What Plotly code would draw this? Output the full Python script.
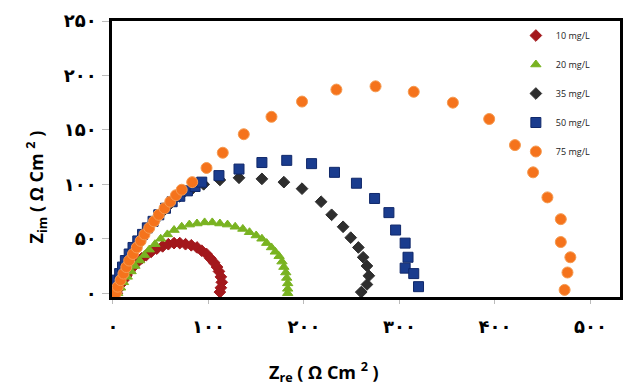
import plotly.graph_objects as go

# Data : Z_re, Z_im in ohm.cm^2
re_10 = [4, 6, 8, 11, 14, 17, 21, 25, 30, 35, 40, 46, 52, 58, 64, 70, 76, 82, 88, 93, 98, 102, 106, 109, 111, 113, 114, 113, 112]
im_10 = [0, 4, 8, 12, 16, 20, 24, 28, 32, 35, 38, 41, 43, 45, 46, 46, 45, 44, 42, 39, 36, 32, 28, 24, 20, 15, 10, 5, 1]

re_20 = [5, 8, 11, 15, 19, 23, 28, 33, 38, 44, 50, 57, 64, 72, 80, 88, 96, 104, 112, 120, 128, 136, 143, 150, 156, 161, 166, 170, 174, 177, 179, 181, 182, 183, 183, 183]
im_20 = [0, 5, 10, 15, 20, 25, 30, 35, 40, 45, 50, 54, 58, 61, 63, 64, 65, 65, 64, 63, 61, 59, 56, 53, 50, 46, 42, 38, 34, 29, 24, 19, 14, 9, 4, 0]

re_35 = [3, 5, 8, 11, 15, 19, 24, 30, 36, 43, 51, 60, 70, 82, 95, 112, 132, 156, 179, 198, 218, 229, 241, 249, 257, 262, 266, 268, 266, 260]
im_35 = [0, 7, 14, 21, 28, 35, 42, 50, 58, 66, 74, 82, 89, 95, 100, 104, 106, 105, 102, 96, 84, 72, 61, 51, 42, 33, 25, 16, 8, 1]

re_50 = [0, 2, 4, 7, 10, 13, 17, 21, 26, 31, 36, 42, 48, 55, 62, 70, 78, 86, 93, 111, 132, 156, 182, 208, 232, 255, 274, 289, 296, 306, 309, 306, 315, 320]
im_50 = [0, 6, 12, 18, 24, 30, 36, 42, 48, 54, 60, 66, 72, 78, 84, 89, 94, 98, 102, 108, 114, 120, 122, 119, 111, 101, 87, 74, 58, 46, 33, 23, 18, 6]

re_75 = [3, 5, 8, 11, 14, 17, 21, 25, 29, 33, 38, 43, 48, 54, 60, 66, 72, 83, 98, 115, 137, 166, 198, 234, 275, 315, 356, 394, 421, 440, 455, 469, 469, 479, 476, 473]
im_75 = [0, 6, 12, 18, 24, 30, 36, 42, 48, 54, 60, 66, 72, 78, 84, 90, 95, 102, 115, 129, 146, 162, 176, 187, 190, 185, 175, 160, 136, 111, 88, 68, 47, 33, 19, 3]

x_tickvals = [0, 100, 200, 300, 400, 500]
x_ticktext = ["۰", "۱۰۰", "۲۰۰", "۳۰۰", "۴۰۰", "۵۰۰"]
y_tickvals = [0, 50, 100, 150, 200, 250]
y_ticktext = ["۰", "۵۰", "۱۰۰", "۱۵۰", "۲۰۰", "۲۵۰"]

series = [
    # name, x, y, symbol, color, size, line color, legendrank
    ("35 mg/L", re_35, im_35, "diamond", "#2e2e2e", 9, "#2e2e2e", 3),
    ("50 mg/L", re_50, im_50, "square", "#1a3c8e", 10, "#10286a", 4),
    ("10 mg/L", re_10, im_10, "diamond", "#a3181c", 9, "#a3181c", 1),
    ("20 mg/L", re_20, im_20, "triangle-up", "#79b321", 9, "#79b321", 2),
    ("75 mg/L", re_75, im_75, "circle", "#f5731c", 11, "#f59a50", 5),
]

fig = go.Figure()
for name, xs, ys, sym, col, size, lcol, rank in series:
    fig.add_trace(go.Scatter(
        x=xs, y=ys, mode="markers", name=name, legendrank=rank,
        legendgroup=name,
        marker=dict(symbol=sym, color=col, size=size, line=dict(color=lcol, width=1)),
    ))

fig.update_layout(
    width=630, height=389,
    margin=dict(l=112, r=7, t=21, b=92),
    paper_bgcolor="white", plot_bgcolor="white",
    showlegend=True,
    legend=dict(x=0.795, y=1.0, xanchor="left", yanchor="top",
                bgcolor="rgba(0,0,0,0)", tracegroupgap=10,
                font=dict(family="Open Sans", size=9, color="#222222"),
                itemsizing="trace"),
    font=dict(family="DejaVu Sans"),
)
fig.update_xaxes(
    range=[-1, 531], tickvals=x_tickvals, ticktext=x_ticktext,
    showgrid=False, zeroline=False,
    showline=True, linecolor="black", linewidth=2.5, mirror=True,
    ticks="outside", ticklen=4, tickcolor="#bbbbbb", ticklabelstandoff=8,
    tickfont=dict(family="DejaVu Sans", size=18, color="black", weight="bold"),
)
fig.update_yaxes(
    range=[-3.5, 250], tickvals=y_tickvals, ticktext=y_ticktext,
    showgrid=False, zeroline=False,
    showline=True, linecolor="black", linewidth=2.5, mirror=True,
    ticks="outside", ticklen=7, tickcolor="#bbbbbb", ticklabelstandoff=2,
    tickfont=dict(family="DejaVu Sans", size=18, color="black", weight="bold"),
)

fig.add_annotation(
    text="Z<sub>re</sub> ( Ω Cm <sup>2</sup> )", xref="paper", yref="paper",
    x=(325 - 112) / 511, y=-(372 - 297) / 276, yanchor="middle", showarrow=False,
    font=dict(family="Open Sans", size=18, color="black", weight="bold"),
)
fig.add_annotation(
    text="Z<sub>im</sub> ( Ω Cm <sup>2</sup> )", xref="paper", yref="paper",
    x=-(112 - 36) / 511, xanchor="center", y=(297 - 187) / 276, showarrow=False, textangle=-90,
    font=dict(family="Open Sans", size=18, color="black", weight="bold"),
)

fig.write_html("out.html")
